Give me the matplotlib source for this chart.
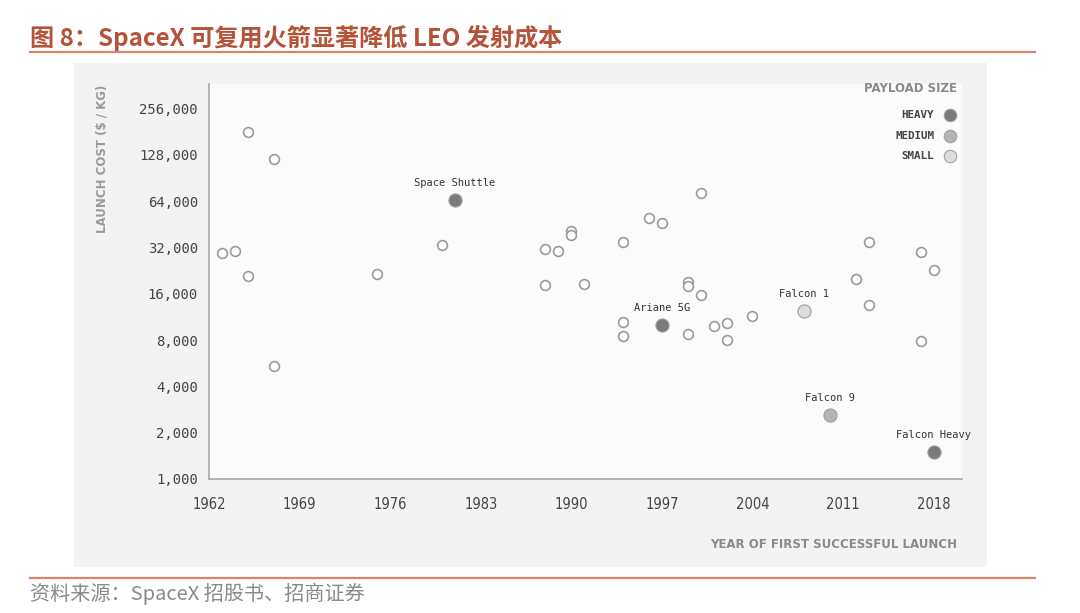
import matplotlib.pyplot as plt
from matplotlib.ticker import FixedLocator, NullLocator
from matplotlib.patches import Rectangle
from matplotlib.lines import Line2D

# rockets without a name on the chart (hollow circles)
other_year = [1963, 1964, 1965, 1965, 1967, 1967, 1975, 1980,
              1988, 1988, 1989, 1990, 1990, 1991, 1994, 1994, 1994,
              1996, 1997, 1999, 1999, 1999, 2000, 2000, 2001, 2002, 2002, 2004,
              2012, 2013, 2013, 2017, 2017, 2018]
other_cost = [29500, 30500, 180000, 20800, 120000, 5400, 21500, 33000,
              31500, 18200, 30500, 41000, 38500, 18500, 35000, 10500, 8500,
              50000, 46000, 19000, 18000, 8800, 72000, 15700, 9900, 10300, 8000, 11500,
              20000, 34500, 13500, 30000, 7900, 22800]

# named rockets
named = ['Space Shuttle', 'Ariane 5G', 'Falcon 1', 'Falcon 9', 'Falcon Heavy']
named_year = [1981, 1997, 2008, 2010, 2018]
named_cost = [65000, 10000, 12400, 2600, 1500]
named_size = ['HEAVY', 'HEAVY', 'SMALL', 'MEDIUM', 'HEAVY']

size_names = ['HEAVY', 'MEDIUM', 'SMALL']
size_colors = {'HEAVY': '#7b7b7b', 'MEDIUM': '#b4b4b4', 'SMALL': '#dddddd'}

y_ticks = [1000, 2000, 4000, 8000, 16000, 32000, 64000, 128000, 256000]
x_ticks = [1962, 1969, 1976, 1983, 1990, 1997, 2004, 2011, 2018]

W, H = 1080, 613
fig = plt.figure(figsize=(W / 100, H / 100), dpi=100)
fig.patch.set_facecolor('white')

def fx(px):
    return px / W

def fy(py):
    return 1 - py / H

# grey panel behind chart
fig.patches.append(Rectangle((fx(74), fy(567)), fx(987) - fx(74), fy(63) - fy(567),
                             transform=fig.transFigure, facecolor='#f3f3f3',
                             edgecolor='none', zorder=-5))

# title, rule lines, source
cjk = ['Noto Sans CJK SC', 'DejaVu Sans']
narrow = ['Liberation Sans Narrow', 'DejaVu Sans']
fig.text(fx(30), fy(38), '图 8：SpaceX 可复用火箭显著降低 LEO 发射成本', family=cjk,
         fontsize=17.4, fontweight='bold', color='#b5533a', va='center', ha='left')
fig.lines.append(Line2D([fx(30), fx(1035)], [fy(52), fy(52)], transform=fig.transFigure,
                        color='#d6866b', linewidth=1.6))
fig.lines.append(Line2D([fx(30), fx(1035)], [fy(578), fy(578)], transform=fig.transFigure,
                        color='#d6866b', linewidth=1.6))
fig.text(fx(30), fy(594), '资料来源：SpaceX 招股书、招商证券', family=cjk,
         fontsize=14.5, color='#8a8a8a', va='center', ha='left')

ax = fig.add_axes([fx(209), fy(479), fx(962) - fx(209), fy(84) - fy(479)])
ax.set_facecolor('#fbfbfb')
ax.set_yscale('log', base=2)
ax.set_xlim(1962, 2020.2)
ax.set_ylim(1000, 370000)

for s in ['top', 'right']:
    ax.spines[s].set_visible(False)
for s in ['left', 'bottom']:
    ax.spines[s].set_color('#a8a8a8')
    ax.spines[s].set_linewidth(1.2)

ax.yaxis.set_major_locator(FixedLocator(y_ticks))
ax.yaxis.set_minor_locator(NullLocator())
ax.set_yticklabels(['{:,}'.format(v) for v in y_ticks], family='DejaVu Sans Mono',
                   fontsize=10, color='#444444')
ax.set_xticks(x_ticks)
ax.set_xticklabels([str(v) for v in x_ticks], family=narrow, fontstretch='condensed',
                   fontsize=10.5, color='#444444')
ax.tick_params(axis='both', length=0)
ax.tick_params(axis='y', pad=8)
ax.tick_params(axis='x', pad=13)

ax.scatter(other_year, other_cost, s=50, facecolor='white', edgecolor='#9a9a9a',
           linewidth=1.2, zorder=3)
for name, yr, c, sz in zip(named, named_year, named_cost, named_size):
    ax.scatter([yr], [c], s=90, facecolor=size_colors[sz], edgecolor='#a0a0a0',
               linewidth=0.8, zorder=4)
    ax.annotate(name, (yr, c), xytext=(0, 8.5), textcoords='offset points',
                ha='center', va='bottom', family='DejaVu Sans Mono', fontsize=7.5,
                color='#333333')

# axis titles
fig.text(fx(102), fy(85), 'LAUNCH COST ($ / KG)', rotation=90, ha='center', va='top',
         family=narrow, fontsize=8.5, fontweight='semibold', color='#9a9a9a')
fig.text(fx(957), fy(545), 'YEAR OF FIRST SUCCESSFUL LAUNCH', ha='right', va='center',
         family=narrow, fontsize=8.5, fontweight='bold', color='#8a8a8a')

# legend
fig.text(fx(957), fy(88), 'PAYLOAD SIZE', ha='right', va='center',
         family=narrow, fontsize=8.5, fontweight='bold', color='#8a8a8a')
for i, sz in enumerate(size_names):
    py = 115 + i * 20.5
    fig.text(fx(934), fy(py), sz, ha='right', va='center', family='DejaVu Sans Mono',
             fontsize=7.8, fontweight='bold', color='#444444')
    fig.lines.append(Line2D([fx(950)], [fy(py)], transform=fig.transFigure, marker='o',
                            markersize=9, markerfacecolor=size_colors[sz],
                            markeredgecolor='#a0a0a0', markeredgewidth=0.8, linestyle='none'))

fig.savefig('out.png', dpi=100, facecolor='white')
